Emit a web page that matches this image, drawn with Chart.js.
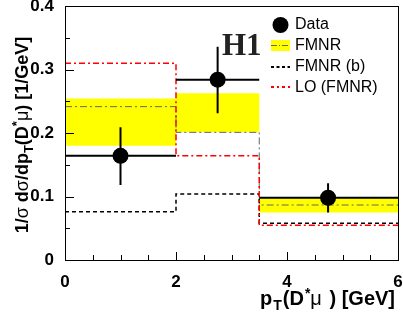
<!DOCTYPE html>
<html>
<head>
<meta charset="utf-8">
<script src="https://cdn.jsdelivr.net/npm/chart.js@4.4.1/dist/chart.umd.min.js"></script>
<style>
  html, body { margin: 0; padding: 0; background: #fff; }
  #wrap { width: 403px; height: 314px; }
</style>
</head>
<body>
<div id="wrap"><canvas id="c" width="403" height="314"></canvas></div>
<script>
// valeurs
const binEdges = [0, 2, 3.5, 6];
const dataX = [1, 2.75, 4.74];
const dataY = [0.164, 0.284, 0.098];
const dataErrLo = [0.118, 0.231, 0.075];
const dataErrHi = [0.209, 0.336, 0.121];
const fmnr = [0.2415, 0.201, 0.0866];
const fmnrLo = [0.180, 0.201, 0.075];
const fmnrHi = [0.2545, 0.2625, 0.098];
const fmnrB = [0.076, 0.104, 0.058];
const loFmnr = [0.310, 0.164, 0.0546];
const xTicks = [0, 2, 4, 6];
const yTicks = [0, 0.1, 0.2, 0.3, 0.4];
const xMinorStep = 0.5;
const yMinorStep = 0.05;

const SANS = '"Liberation Sans", Arial, Helvetica, sans-serif';

// histogramme en escalier
function steps(vals) {
    const pts = vals.map((v, i) => ({ x: binEdges[i], y: v }));
    pts.push({ x: binEdges[binEdges.length - 1], y: vals[vals.length - 1] });
    return pts;
}

function drawRuns(ctx, runs, x, y, align) {
    let total = 0;
    runs.forEach(r => { ctx.font = r.font; r.w = ctx.measureText(r.t).width + (r.gap || 0); total += r.w; });
    let cx = align === 'right' ? x - total : align === 'center' ? x - total / 2 : x;
    ctx.textAlign = 'left';
    ctx.textBaseline = 'alphabetic';
    runs.forEach(r => { ctx.font = r.font; ctx.fillText(r.t, cx, y + (r.dy || 0)); cx += r.w; });
}

const decorPlugin = {
    id: 'decor',
    beforeDatasetDraw(chart, args) {
        // barres d'erreur des données
        if (args.index !== 5) return;
        const ctx = chart.ctx, xs = chart.scales.x, ys = chart.scales.y;
        ctx.save();
        ctx.strokeStyle = '#000';
        ctx.lineWidth = 2;
        for (let i = 0; i < dataX.length; i++) {
            const px = xs.getPixelForValue(dataX[i]);
            const py = ys.getPixelForValue(dataY[i]);
            ctx.beginPath();
            ctx.moveTo(xs.getPixelForValue(binEdges[i]), py);
            ctx.lineTo(xs.getPixelForValue(binEdges[i + 1]), py);
            ctx.moveTo(px, ys.getPixelForValue(dataErrLo[i]));
            ctx.lineTo(px, ys.getPixelForValue(dataErrHi[i]));
            ctx.stroke();
        }
        ctx.restore();
    },
    afterDraw(chart) {
        const ctx = chart.ctx, a = chart.chartArea;
        const xs = chart.scales.x, ys = chart.scales.y;
        ctx.save();
        // cadre
        ctx.strokeStyle = '#000';
        ctx.lineWidth = 1;
        ctx.strokeRect(Math.round(a.left) + 0.5, Math.round(a.top) + 0.5,
            Math.round(a.right - a.left), Math.round(a.bottom - a.top));
        // graduations vers l'intérieur
        ctx.beginPath();
        for (let v = xs.min; v <= xs.max + 1e-9; v += xMinorStep) {
            const px = Math.round(xs.getPixelForValue(v)) + 0.5;
            const major = xTicks.some(t => Math.abs(t - v) < 1e-9);
            ctx.moveTo(px, a.bottom);
            ctx.lineTo(px, a.bottom - (major ? 8 : 5));
        }
        for (let v = ys.min; v <= ys.max + 1e-9; v += yMinorStep) {
            const py = Math.round(ys.getPixelForValue(v)) + 0.5;
            const major = yTicks.some(t => Math.abs(t - v) < 1e-9);
            ctx.moveTo(a.left, py);
            ctx.lineTo(a.left + (major ? 9 : 5), py);
        }
        ctx.stroke();

        ctx.fillStyle = '#000';
        // titre axe x
        const bold = 'bold 20px ' + SANS, small = 'bold 14px ' + SANS, sym = '20px ' + SANS;
        drawRuns(ctx, [
            { t: 'p', font: bold, gap: 1 },
            { t: 'T', font: small, dy: 5, gap: 1 },
            { t: '(D', font: bold, gap: 1 },
            { t: '*', font: small, dy: -7 },
            { t: 'μ', font: sym, gap: 2 },
            { t: ' ) [GeV]', font: bold }
        ], 395, 305, 'right');

        // titre axe y
        const b2 = 'bold 18px ' + SANS, s2 = 'bold 13px ' + SANS, g2 = '18px ' + SANS;
        ctx.save();
        ctx.translate(28, 135);
        ctx.rotate(-Math.PI / 2);
        drawRuns(ctx, [
            { t: '1/', font: b2 },
            { t: 'σ', font: g2 },
            { t: ' d', font: b2 },
            { t: 'σ', font: g2 },
            { t: '/dp', font: b2 },
            { t: 'T', font: s2, dy: 5 },
            { t: '(D', font: b2 },
            { t: '*', font: s2, dy: -7 },
            { t: 'μ', font: g2 },
            { t: ') [1/GeV]', font: b2 }
        ], 0, 0, 'center');
        ctx.restore();

        // H1
        ctx.font = 'bold 31px "Liberation Serif", "Times New Roman", serif';
        ctx.fillStyle = '#222';
        ctx.textAlign = 'left';
        ctx.textBaseline = 'alphabetic';
        ctx.fillText('H1', 222, 55);

        // légende
        const lx = 271, lw = 19, tx = 295;
        ctx.font = '16px ' + SANS;
        ctx.fillStyle = '#000';
        ctx.textBaseline = 'middle';
        ctx.beginPath();
        ctx.arc(lx + lw / 2, 25, 8, 0, Math.PI * 2);
        ctx.fill();
        ctx.fillText('Data', tx, 25);

        ctx.fillStyle = '#ffff00';
        ctx.fillRect(lx, 40, lw, 11);
        ctx.strokeStyle = '#666';
        ctx.lineWidth = 1;
        ctx.setLineDash([6, 2, 1, 2]);
        ctx.beginPath(); ctx.moveTo(lx, 45.5); ctx.lineTo(lx + lw, 45.5); ctx.stroke();
        ctx.fillStyle = '#000';
        ctx.fillText('FMNR', tx, 46);

        ctx.strokeStyle = '#000';
        ctx.lineWidth = 2;
        ctx.setLineDash([3, 2.5]);
        ctx.beginPath(); ctx.moveTo(lx, 67); ctx.lineTo(lx + lw, 67); ctx.stroke();
        ctx.fillText('FMNR (b)', tx, 67);

        ctx.strokeStyle = '#ff0000';
        ctx.setLineDash([3, 3, 2, 3]);
        ctx.beginPath(); ctx.moveTo(lx, 87); ctx.lineTo(lx + lw, 87); ctx.stroke();
        ctx.setLineDash([]);
        ctx.fillText('LO (FMNR)', tx, 88);
        ctx.restore();
    }
};

new Chart(document.getElementById('c'), {
    type: 'line',
    data: {
        datasets: [
            {
                label: 'FMNR haut', data: steps(fmnrHi), stepped: 'before',
                borderWidth: 0, pointRadius: 0, fill: '+1',
                backgroundColor: '#ffff00', order: 5
            },
            {
                label: 'FMNR bas', data: steps(fmnrLo), stepped: 'before',
                borderWidth: 0, pointRadius: 0, fill: false, order: 6
            },
            {
                label: 'FMNR', data: steps(fmnr), stepped: 'before',
                borderColor: '#666', borderWidth: 1, borderDash: [7, 3, 2, 3],
                pointRadius: 0, fill: false, order: 3
            },
            {
                label: 'FMNR (b)', data: steps(fmnrB), stepped: 'before',
                borderColor: '#000', borderWidth: 1.5, borderDash: [4, 3],
                pointRadius: 0, fill: false, order: 2
            },
            {
                label: 'LO (FMNR)', data: steps(loFmnr), stepped: 'before',
                borderColor: '#ff0000', borderWidth: 1.5, borderDash: [6, 3, 2, 3],
                pointRadius: 0, fill: false, order: 1
            },
            {
                label: 'Data', data: dataX.map((x, i) => ({ x: x, y: dataY[i] })),
                showLine: false, pointRadius: 8, pointBackgroundColor: '#000',
                pointBorderColor: '#000', pointBorderWidth: 0, order: 0
            }
        ]
    },
    options: {
        responsive: false,
        animation: false,
        devicePixelRatio: 1,
        layout: { autoPadding: false, padding: { top: 6, right: 5, left: 0, bottom: 0 } },
        plugins: { legend: { display: false }, tooltip: { enabled: false } },
        scales: {
            x: {
                type: 'linear', min: 0, max: 6,
                grid: { display: false }, border: { display: false },
                afterBuildTicks: s => { s.ticks = xTicks.map(v => ({ value: v })); },
                afterFit: s => { s.height = 54; s.paddingLeft = 0; s.paddingRight = 0; },
                ticks: { color: '#000', padding: 4, maxRotation: 0, font: { family: SANS, size: 17, weight: 'bold' } }
            },
            y: {
                type: 'linear', min: 0, max: 0.4,
                grid: { display: false }, border: { display: false },
                afterBuildTicks: s => { s.ticks = yTicks.map(v => ({ value: v })); },
                afterFit: s => { s.width = 65; s.paddingTop = 0; s.paddingBottom = 0; },
                ticks: { color: '#000', padding: 3, font: { family: SANS, size: 17, weight: 'bold' } }
            }
        }
    },
    plugins: [decorPlugin]
});
</script>
</body>
</html>
